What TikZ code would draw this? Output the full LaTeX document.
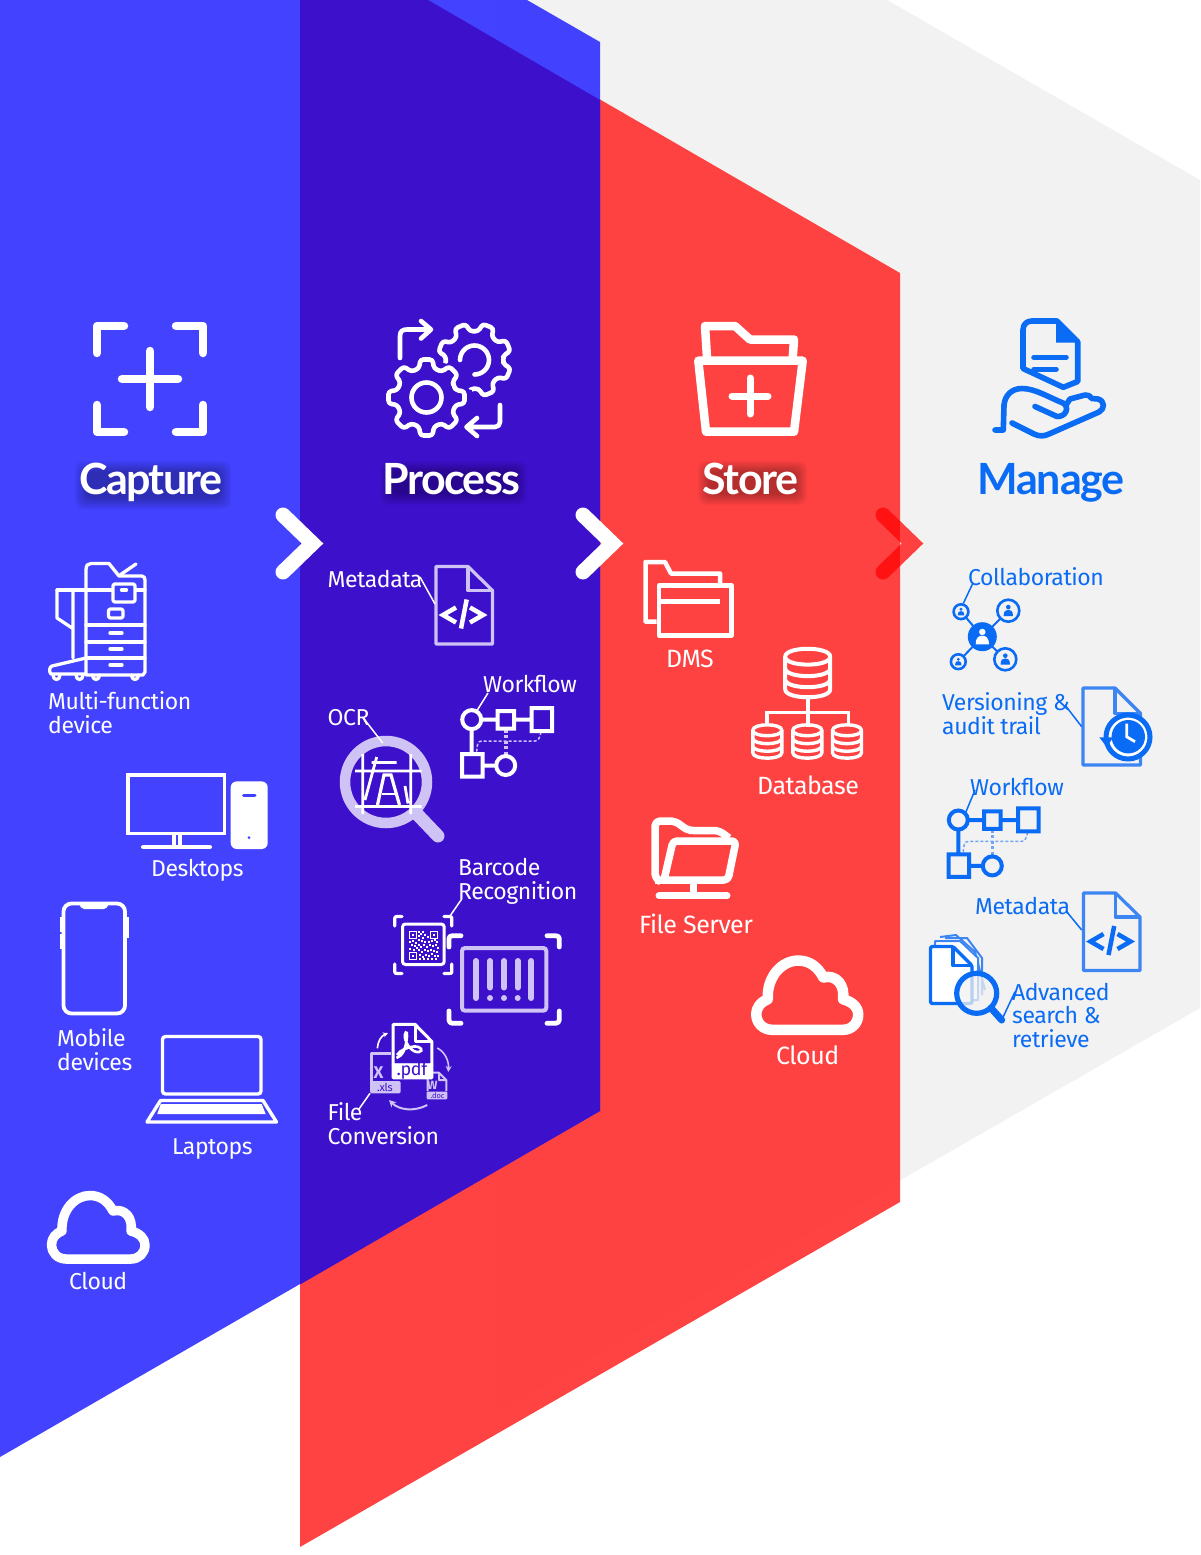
\documentclass[tikz,border=0pt]{standalone}
\usepackage{fontspec}
\usetikzlibrary{arrows.meta}
\setmainfont[LetterSpace=-2]{Fira Sans}
\newfontfamily\headfont[LetterSpace=-3.8]{Lato}
\newfontfamily\headfontb[LetterSpace=-2.8]{Lato}
\definecolor{cblue}{HTML}{4040FF}
\definecolor{cdark}{HTML}{3D10CC}
\definecolor{cred}{HTML}{FF4040}
\definecolor{cgray}{HTML}{F2F2F2}
\definecolor{cman}{HTML}{0A6BF5}
\definecolor{cmanl}{HTML}{3C85F2}
\definecolor{clav}{HTML}{CFC2F5}
\definecolor{cdeep}{HTML}{FF1212}
\tikzset{
 lab/.style={anchor=base west,inner sep=0pt,font=\fontsize{23}{23.5}\selectfont,align=left},
 labb/.style={anchor=base west,inner sep=0pt,font=\fontsize{25}{25}\selectfont,align=left},
 head/.style={anchor=base,inner sep=0pt,font=\headfont\bfseries\fontsize{43}{43}\selectfont},
 headb/.style={anchor=base,inner sep=0pt,font=\headfontb\bfseries\fontsize{43}{43}\selectfont},
 lead/.style={line width=1.5pt},
 ic/.style={line join=round,line cap=round},
}
\newcommand\headhalo[4]{%
 \foreach \k in {0,1.2,2.4,3.6,4.8,6,7.2,8.4,9.6,10.8}{
  \fill[black,fill opacity=.032,rounded corners=8pt] (#1+\k,#3+\k) rectangle (#2-\k,#4-\k);}}
\newcommand\wflow[3]{%
 \begin{scope}[shift={(#1,#2)}]
 \draw[#3,line width=4pt] (471.7,719.6) circle[radius=9.5] (481.2,719.6)--(497.5,719.6) (497.5,711)rectangle(514,728.5) (514,719.6)--(531.5,719.6) (531.5,708)rectangle(552,731) (471.7,729)--(471.7,753.6) (462,754)rectangle(482.5,776.5) (482.5,765.5)--(496,765.5);
 \draw[#3,line width=4pt] (505.7,765.5) circle[radius=9.5];
 \end{scope}}
\newcommand\wdash[3]{%
 \begin{scope}[shift={(#1,#2)}]
 \draw[#3,line width=3.6pt,dash pattern=on 3pt off 2.5pt] (505.7,729.5)--(505.7,755);
 \draw[#3,line width=1.5pt,dash pattern=on 3pt off 2pt] (541,732) .. controls (540,738) and (538,741) .. (535,741) -- (482,741) .. controls (478,741) and (476.7,744) .. (476.7,753);
 \end{scope}}
\newcommand\codedoc[5]{%
 \begin{scope}[shift={(#1,#2)}]
 \draw[#3,line width=3.2pt,line join=round,fill=#5] (468,566.5)--(436,566.5)--(436,644)--(492.5,644)--(492.5,590.5)--cycle;
 \draw[#3,line width=3.2pt,line join=round] (468,566.5)--(468,590.5)--(492.5,590.5);
 \draw[#4,line width=4.5pt,line join=miter] (456,607.5)--(443,615)--(456,622.5) (470,607.5)--(483,615)--(470,622.5) (466.7,599.5)--(461,628.5);
 \end{scope}}
\newcommand\cloudicon[4]{%
 \begin{scope}[shift={(#1,#2)},scale=#3]
 \draw[white,line width=#4,line join=round] (-32,31) .. controls (-41,31) and (-46.5,24) .. (-46.5,17) .. controls (-46.5,10) and (-42,5) .. (-36,3) .. controls (-37,-18) and (-23,-32.5) .. (-8,-32.5) .. controls (2,-32.5) and (10,-27) .. (15,-17) .. controls (27,-20) and (35,-10) .. (33,3) .. controls (41,5) and (47,10) .. (47,17) .. controls (47,25) and (41,31) .. (33,31) -- cycle;
 \end{scope}}
\newcommand\cyl[6]{%
 \draw[#6,line width=#5] (#1-#3,#2+#4*.16) .. controls (#1-#3,#2-#4*.06) and (#1+#3,#2-#4*.06) .. (#1+#3,#2+#4*.16) -- (#1+#3,#2+#4*.84) .. controls (#1+#3,#2+#4*1.06) and (#1-#3,#2+#4*1.06) .. (#1-#3,#2+#4*.84) -- cycle
 (#1-#3,#2+#4*.16) .. controls (#1-#3,#2+#4*.38) and (#1+#3,#2+#4*.38) .. (#1+#3,#2+#4*.16)
 (#1-#3,#2+#4*.4) .. controls (#1-#3,#2+#4*.62) and (#1+#3,#2+#4*.62) .. (#1+#3,#2+#4*.4)
 (#1-#3,#2+#4*.63) .. controls (#1-#3,#2+#4*.85) and (#1+#3,#2+#4*.85) .. (#1+#3,#2+#4*.63);}
\newcommand\gearpath[6]{%
 ({#1+#4*cos(#6-180/#5)},{#2+#4*sin(#6-180/#5)})
 \foreach \i [evaluate=\i as \A using #6+\i*360/#5] in {0,...,\numexpr#5-1\relax}{
  -- ({#1+#4*cos(\A-14.5)},{#2+#4*sin(\A-14.5)})
  -- ({#1+#3*cos(\A-9)},{#2+#3*sin(\A-9)})
  -- ({#1+#3*cos(\A+9)},{#2+#3*sin(\A+9)})
  -- ({#1+#4*cos(\A+14.5)},{#2+#4*sin(\A+14.5)})
 } -- cycle}
\newcommand\person[4]{%
 \fill[#4] (#1,#2-#3*.42) circle[radius=#3*.27];
 \fill[#4] (#1-#3*.55,#2+#3*.62) .. controls (#1-#3*.55,#2-#3*.02) and (#1-#3*.25,#2-#3*.1) .. (#1,#2-#3*.1) .. controls (#1+#3*.25,#2-#3*.1) and (#1+#3*.55,#2-#3*.02) .. (#1+#3*.55,#2+#3*.62) -- cycle;}
\begin{document}
\begin{tikzpicture}[x=1pt,y=-1pt]
\useasboundingbox (0,0) rectangle (1200,1555);
\fill[white] (0,0) rectangle (1200,1555);
% bands
\fill[cgray] (497,0)--(887,0)--(1200,180)--(1200,1008)--(497,1412)--cycle;
\fill[cred,fill opacity=.985] (300,0)--(428,0)--(900,273)--(900,1202)--(300,1547)--cycle;
\fill[cblue,fill opacity=.985] (0,0)--(527,0)--(600,42)--(600,1111)--(0,1457)--cycle;
\fill[cdark] (300,0)--(428,0)--(600,100)--(600,1111)--(300,1284.5)--cycle;
% chevrons
\draw[white,line width=15pt,line cap=round,line join=miter] (283,515)--(312.5,543.5)--(283,572);
\draw[white,line width=15pt,line cap=round,line join=miter] (583,515)--(612.5,543.5)--(583,572);
\begin{scope}
\clip (860,490) rectangle (900,600);
\draw[cdeep,line width=15pt,line cap=round,line join=miter] (883,515)--(912.5,543.5)--(883,572);
\end{scope}
\begin{scope}
\clip (900,490) rectangle (940,600);
\draw[cred,line width=15pt,line cap=round,line join=miter] (883,515)--(912.5,543.5)--(883,572);
\end{scope}
% headings
\headhalo{75}{231}{461}{509}
\headhalo{380}{527}{461}{505}
\headhalo{698}{807}{461}{505}
\node[head,text=white] (hcapture) at (151,494) {Capture};
\node[head,text=white] (hprocess) at (451.5,494) {Process};
\node[headb,text=white] (hstore) at (750.5,494) {Store};
\node[headb,text=cman] (hmanage) at (1051,494) {Manage};
% capture icon
\draw[white,ic,line width=8.5pt] (97,353)--(97,326)--(124,326) (176,326)--(203,326)--(203,353) (97,405)--(97,432)--(124,432) (176,432)--(203,432)--(203,405) (150,351)--(150,407) (122,379)--(178,379);
% MFP
\begin{scope}[white,ic,line width=3.3pt]
\draw (86,673)--(86,570) .. controls (86,565) and (88,563.5) .. (91,563.5)--(109,563.5)--(119,576)--(142,576) .. controls (144,576) and (145,578) .. (145,580)--(145,672)--(143,675)--(86,675);
\draw (120,575)--(136,564);
\draw (57,590)--(145,590) (86,625)--(145,625) (86,642)--(145,642) (86,658)--(145,658);
\draw[fill=cblue,rounded corners=2pt] (113,584) rectangle (135,602);
\draw[rounded corners=2pt] (108.5,609) rectangle (123,618);
\draw (121.5,590)--(126.5,590) (110,633)--(122,633) (110,649)--(122,649) (110,665)--(122,665);
\draw (73,590)--(73,658) (57,590)--(57,618)--(72,628);
\draw (86,658)--(52,666) .. controls (49,667) and (49,672) .. (51,674)--(86,674);
\draw (53,675) .. controls (53,681) and (60,681) .. (60,675);
\draw (76,675) .. controls (76,681) and (83,681) .. (83,675);
\draw (92.5,675) .. controls (92.5,681) and (99.5,681) .. (99.5,675);
\draw (131.5,675) .. controls (131.5,681) and (138.5,681) .. (138.5,675);
\end{scope}
\node[lab,text=white] (lmfp) at (48,733) {Multi-function\\device};
% desktop
\draw[white,line width=3.6pt] (128,775) rectangle (224.5,833.5) (174,835)--(174,845) (180,835)--(180,845);
\draw[white,line width=4pt,line cap=round] (143,847)--(210,847);
\fill[white,rounded corners=6pt] (230.7,781.4) rectangle (267.7,849);
\draw[cblue,line width=3pt,line cap=round] (243.5,795)--(255,795);
\fill[cblue] (249,837.6) circle[radius=1.5];
\node[lab,text=white] (ldesk) at (151,876) {Desktops};
% phone
\draw[white,line width=3.8pt,rounded corners=8pt] (63.5,903.5) rectangle (125,1013.5);
\fill[white] (79,903)--(108.5,903) .. controls (108,907) and (106,909) .. (104,909)--(84,909) .. controls (82,909) and (80,907) .. (79,903)--cycle;
\draw[white,line width=2.4pt] (60.7,917)--(60.7,932) (60.7,934)--(60.7,949) (127.5,917)--(127.5,938);
\node[lab,text=white] (lmob) at (57,1070) {Mobile\\devices};
% laptop
\draw[white,line width=3.4pt,rounded corners=3pt] (162.5,1036.5) rectangle (261,1094);
\draw[white,line width=3.4pt,line join=round] (160.5,1100.5)--(263,1100.5)--(276.5,1122)--(147,1122)--cycle;
\fill[white] (160.7,1104)--(261.7,1104)--(265.7,1114)--(157.3,1114)--cycle;
\node[lab,text=white] (llap) at (172,1154) {Laptops};
% clouds
\cloudicon{98}{1228}{1}{9.5pt}
\node[lab,text=white] (lcl1) at (69,1289) {Cloud};
\cloudicon{807}{996}{1.09}{10.5pt}
\node[labb,text=white] (lcl2) at (776,1064) {Cloud};
% gears
\draw[white,ic,line width=4.6pt,rounded corners=3pt] \gearpath{474.5}{360}{37}{29}{8}{22};
\draw[white,ic,line width=4.6pt] (460,360) arc[start angle=180,end angle=450,radius=14.5];
\fill[cdark] \gearpath{426.5}{397.5}{46}{39}{8}{0};
\draw[white,ic,line width=4.6pt,rounded corners=3pt,fill=cdark] \gearpath{426.5}{397.5}{38.5}{30}{8}{0};
\draw[white,line width=4.6pt] (426.5,397.5) circle[radius=15];
\draw[white,ic,line width=4.6pt] (400,358)--(400,336) .. controls (400,331) and (403,329.5) .. (407,329.5)--(430,329.5) (421,321)--(431,329.5)--(421,338.5)
 (500,405)--(500,422) .. controls (500,425) and (498,427) .. (495,427)--(467,427) (477,418)--(466.5,427)--(477,436);
% metadata (process)
\codedoc{0}{0}{clav}{white}{cdark}
\node[lab,text=white] (lmeta) at (327.5,587) {Metadata};
\coordinate (metaend) at (435,604);
\draw[white,lead] (420,577)--(metaend);
% workflow (process)
\wdash{0}{0}{clav}
\wflow{0}{0}{white}
\node[lab,text=white] (lwork) at (483,692) {Workflow};
\coordinate (workend) at (476.7,711);
\draw[white,lead] (488,693)--(workend);
% OCR
\draw[clav,line width=10.5pt] (386,782) circle[radius=41];
\draw[clav,line width=13pt,line cap=round] (416,813)--(438,836);
\begin{scope}[white,line width=2.8pt]
\draw (355,771)--(421.7,771) (355,806.5)--(421.7,806.5) (362.7,754)--(362.7,814) (410.7,754)--(410.7,814) (371.7,762.5)--(396.7,762.5) (376.7,757)--(365,800) (405,786)--(408,803.5);
\draw[line width=3.2pt,line join=miter] (377.5,805)--(384,775)--(391,775)--(399.5,805);
\draw[line width=2.8pt] (382,794)--(395,794);
\end{scope}
\node[lab,text=white] (locr) at (327.5,725) {OCR};
\coordinate (ocrend) at (382.7,743);
\draw[white,lead] (363.3,718)--(ocrend);
% QR
\draw[white,line width=3pt,rounded corners=3pt] (402.5,924) rectangle (444.2,964.5);
\begin{scope}[white,ic,line width=3.2pt]
\draw (394.8,926)--(394.8,918) .. controls (394.8,917) and (395.5,916.5) .. (397,916.5)--(402,916.5)
 (444,916.5)--(449.5,916.5) .. controls (451,916.5) and (451.8,917) .. (451.8,918)--(451.8,926)
 (394.8,964)--(394.8,972) .. controls (394.8,973) and (395.5,973.5) .. (397,973.5)--(402,973.5)
 (444,973.5)--(449.5,973.5) .. controls (451,973.5) and (451.8,973) .. (451.8,972)--(451.8,964);
\end{scope}
\begin{scope}[white]
\foreach \qx/\qy in {409/931,430/931,409/952}{
 \draw[line width=1.2pt] (\qx+.6,\qy+.6) rectangle (\qx+7.4,\qy+7.4);
 \fill (\qx+2.6,\qy+2.6) rectangle (\qx+5.4,\qy+5.4);}
\foreach \qx/\qy in {418/931,420/933,422/931,424/934,427/936,418/935,422/937,418/939,421/940,424/941,428/941,431/940,434/939,436/941,409/941,412/940,415/942,411/944,414/945,418/944,420/946,423/944,426/946,429/944,432/945,435/944,437/947,418/949,421/951,424/949,427/950,430/949,433/950,436/951,419/954,422/956,425/954,428/955,431/953,434/955,437/955,419/958,423/958,427/958,431/958,435/958,416/947,409/948,413/949}{
 \fill (\qx,\qy) rectangle (\qx+1.9,\qy+1.9);}
\end{scope}
\node[lab,text=white] (lbar) at (458,899) {Barcode\\Recognition};
\coordinate (barend) at (450.7,915);
\draw[white,lead] (461.7,899)--(barend);
% barcode
\begin{scope}[white,ic,line width=4.8pt]
\draw (449,947)--(449,938.5) .. controls (449,936.5) and (450.5,935.7) .. (452.5,935.7)--(461,935.7)
 (547,935.7)--(555.5,935.7) .. controls (557.5,935.7) and (559.3,936.5) .. (559.3,938.5)--(559.3,947)
 (449,1011)--(449,1020) .. controls (449,1022) and (450.5,1023.3) .. (452.5,1023.3)--(461,1023.3)
 (547,1023.3)--(555.5,1023.3) .. controls (557.5,1023.3) and (559.3,1022) .. (559.3,1020)--(559.3,1011);
\end{scope}
\draw[clav,line width=4pt,rounded corners=3pt] (462,948) rectangle (546.3,1010.7);
\draw[clav,line width=6pt,line cap=round] (476,961)--(476,998) (531.3,961)--(531.3,998) (490,961)--(490,987.5) (504,961)--(504,987.5) (517.7,961)--(517.7,987.5);
\fill[clav] (490,998) circle[radius=3] (504,998) circle[radius=3] (517.7,998) circle[radius=3];
% file conversion
\draw[clav,line width=3pt,line join=round] (371.5,1083)--(371.5,1053)--(391,1053);
\fill[clav,rounded corners=1.5pt] (370,1081) rectangle (400.7,1093.3);
\node[font=\fontsize{11}{11}\selectfont,text=cdark,inner sep=0pt] (txls) at (385,1087) {.xls};
\node[font=\bfseries\fontsize{17}{17}\selectfont,text=clav,inner sep=0pt] (tx) at (378.5,1073) {X};
\draw[clav,line width=2pt,line join=round] (427.7,1091)--(427.7,1072.7)--(439,1072.7)--(446.3,1080)--(446.3,1091) (439,1072.7)--(439,1080)--(446.3,1080);
\fill[clav,rounded corners=1pt] (426.7,1091.5) rectangle (447.3,1099.3);
\node[font=\fontsize{7.5}{7.5}\selectfont,text=cdark,inner sep=0pt] (tdoc) at (437.5,1095.5) {.doc};
\node[font=\bfseries\fontsize{12}{12}\selectfont,text=clav,inner sep=0pt] (tw) at (432.5,1085) {W};
\draw[white,line width=3pt,line join=round,fill=cdark] (393.2,1065)--(393.2,1024.3)--(415,1024.3)--(431.8,1041.5)--(431.8,1065)--cycle;
\draw[white,line width=3pt,line join=round] (415,1024.3)--(415,1041.5)--(431.8,1041.5);
\fill[white,rounded corners=1.5pt] (391.7,1063.3) rectangle (433.3,1079.3);
\node[font=\fontsize{18}{18}\selectfont,text=cdark,inner sep=0pt,anchor=base] (tpdf) at (412,1075.5) {.pdf};
\draw[white,line width=2.6pt] (396.5,1058) .. controls (402,1056) and (406,1050) .. (407,1036) .. controls (407.5,1030) and (404,1032) .. (405,1038) .. controls (406,1044) and (412,1053) .. (419,1052) .. controls (424,1051) and (421,1046) .. (414,1046.5) .. controls (408,1047) and (400,1050) .. (397,1055);
\draw[white,line width=1.6pt,-{Stealth[length=5pt,width=5pt]}] (377.3,1048.3) .. controls (378,1041) and (381,1036) .. (388,1033);
\draw[clav,line width=1.6pt,-{Stealth[length=6pt,width=6pt]}] (437.3,1048) .. controls (445,1052) and (449,1061) .. (448.3,1072);
\draw[clav,line width=2pt,-{Stealth[length=7pt,width=7pt]}] (427.3,1105) .. controls (414,1112) and (399,1110) .. (389,1100);
\node[lab,text=white] (lfile) at (327.5,1144) {File\\Conversion};
\coordinate (fileend) at (370,1093.3);
\draw[white,lead] (358.3,1110)--(fileend);
% store icon
\begin{scope}[white,line width=8.5pt,line join=round]
\draw (707,358)--(705,326)--(735,326)--(750,339.5)--(794,339.5)--(792.7,358);
\draw (698.3,360.7)--(802.7,360.7)--(794,431.7)--(706,431.7)--cycle;
\end{scope}
\draw[white,line width=7pt,line cap=round] (732,396)--(768,396) (750,378)--(750,414);
% DMS
\begin{scope}[white,line width=4.5pt,line join=round]
\draw (656.7,621.5)--(645.5,621.5)--(645.5,562)--(665,562)--(671,573.5)--(720,573.5)--(720,583);
\draw (659,585.5) rectangle (731.5,635.5);
\draw[line width=5pt] (661,601)--(720,601);
\end{scope}
\node[labb,text=white] (ldms) at (666,667) {DMS};
% database
\cyl{807.7}{649}{22.5}{48}{4pt}{white}
\draw[white,line width=3.6pt] (807.7,698)--(807.7,727) (766.7,725)--(766.7,712.3)--(848.3,712.3)--(848.3,725);
\cyl{767.3}{725}{14.5}{33}{3.4pt}{white}
\cyl{807.3}{725}{14.5}{33}{3.4pt}{white}
\cyl{847}{725}{14.5}{33}{3.4pt}{white}
\node[labb,text=white] (ldb) at (757,794) {Database};
% file server
\begin{scope}[white,line join=round,line width=7.5pt]
\draw[rounded corners=5pt] (661,882)--(655,878)--(655,821)--(675,821)--(688,830.5)--(719,830.5)--(729,838);
\draw[rounded corners=4pt] (655,880)--(728,880)--(736,841)--(673,841)--(664,880);
\draw[line width=7pt,line cap=round] (659,895.7)--(727,895.7);
\draw[line width=7pt] (693.3,882)--(693.3,894);
\end{scope}
\node[labb,text=white] (lfs) at (639,933) {File Server};
% manage icon
\begin{scope}[cman,ic,line width=5.6pt]
\draw (1023,368.5)--(1023,330) .. controls (1023,324) and (1027,321) .. (1032,321)--(1057,321)--(1077.7,341.7)--(1077.7,381.5)--(1063.3,387.3)--cycle;
\fill (1056,322)--(1077,342.5)--(1056,342.5)--cycle;
\draw (1034,357.3)--(1066,357.3) (1034,369.3)--(1056,369.3);
\draw (995,430)--(1003.3,430)--(1004,405) .. controls (1005,395) and (1012,388.5) .. (1022,388.5) .. controls (1035,388.5) and (1048,397) .. (1063,403) .. controls (1070,407) and (1066,417) .. (1057,416.5)--(1035,406.5);
\draw (1066,405)--(1070,399)--(1085,395) .. controls (1088,394.5) and (1090,396) .. (1092,398.5)--(1098,399) .. controls (1105,401) and (1105,409) .. (1099,412)--(1049,434) .. controls (1044,436.5) and (1039,436.5) .. (1034,434)--(1012,423);
\end{scope}
% collaboration
\node[lab,text=cman] (lcol) at (968,585) {Collaboration};
\draw[cman,line width=2pt] (961,611.7)--(982.3,636.7) (1008.3,610.7)--(982.3,636.7) (958.3,661.7)--(982.3,636.7) (1005.3,659.3)--(982.3,636.7);
\draw[cman,lead] (972.7,583.5)--(963.3,603.5);
\fill[cman] (982.3,636.7) circle[radius=14.5];
\person{982.3}{637}{12}{white}
\foreach \cx/\cy/\cr in {961/611.7/7.4,1008.3/610.7/11,958.3/661.7/7.4,1005.3/659.3/11}{
 \draw[cman,line width=2.6pt,fill=cgray] (\cx,\cy) circle[radius=\cr];
 \person{\cx}{\cy}{\cr*.78}{cman}}
% versioning
\node[lab,text=cman] (lver) at (942,734) {Versioning \&\\audit trail};
\draw[cmanl,line width=3.2pt,line join=round,fill=cgray] (1115,688)--(1083,688)--(1083,765)--(1140.5,765)--(1140.5,713.5)--cycle;
\draw[cmanl,line width=3.2pt,line join=round] (1115,688)--(1115,713.5)--(1140.5,713.5);
\coordinate (verend) at (1081.7,726.7);
\draw[cman,lead] (1065,705)--(verend);
\fill[white] (1128.3,736.7) circle[radius=22];
\draw[cman,line width=5pt] (1106,737) arc[start angle=180,end angle=-220,radius=22];
\fill[cman] (1128.3,736.7) circle[radius=16.7];
\fill[cman] (1099.3,737.3)--(1113.3,737.3)--(1106.7,747)--cycle;
\draw[white,line width=2.8pt,line join=miter] (1126.7,723.5)--(1126.7,736.7)--(1135,741.7);
% workflow (manage)
\wdash{486.6}{100.4}{cmanl!70!cgray}
\wflow{486.6}{100.4}{cman}
\node[lab,text=cman] (lwf) at (970,795) {Workflow};
\coordinate (wfend) at (966,811.7);
\draw[cman,lead] (975,790)--(wfend);
% metadata (manage)
\codedoc{647.5}{326.5}{cmanl}{cman}{cgray}
\node[lab,text=cman] (lmm) at (975,914) {Metadata};
\coordinate (mmend) at (1081.7,930);
\draw[cman,lead] (1066.7,911.7)--(mmend);
% advanced search
\begin{scope}[line join=round]
\draw[cmanl,line width=2pt] (940,937)--(956,935)--(975,952)--(985,990) (945,938)--(967,938)--(982,958)--(982,995);
\draw[cmanl,line width=2pt,fill=white] (935,941)--(960,941)--(978,958)--(978,1000)--(935,1000)--cycle;
\draw[cman,line width=3.4pt,fill=white,rounded corners=1.5pt] (930.5,946.5)--(953,946.5)--(972,965.5)--(972,1003.5)--(930.5,1003.5)--cycle;
\draw[cman,line width=3.4pt] (953,946.5)--(953,965.5)--(972,965.5);
\end{scope}
\draw[cman,line width=5.2pt,fill=cgray,fill opacity=.75] (976.7,993.3) circle[radius=20];
\draw[cman,line width=7pt,line cap=round] (991,1008)--(1001.7,1020);
\coordinate (advend) at (1001.7,1020);
\draw[cman,lead] (advend)--(1015,991.7);
\node[lab,text=cman] (ladv) at (1012,1047) {Advanced\\search \&\\retrieve};
\end{tikzpicture}
\end{document}
